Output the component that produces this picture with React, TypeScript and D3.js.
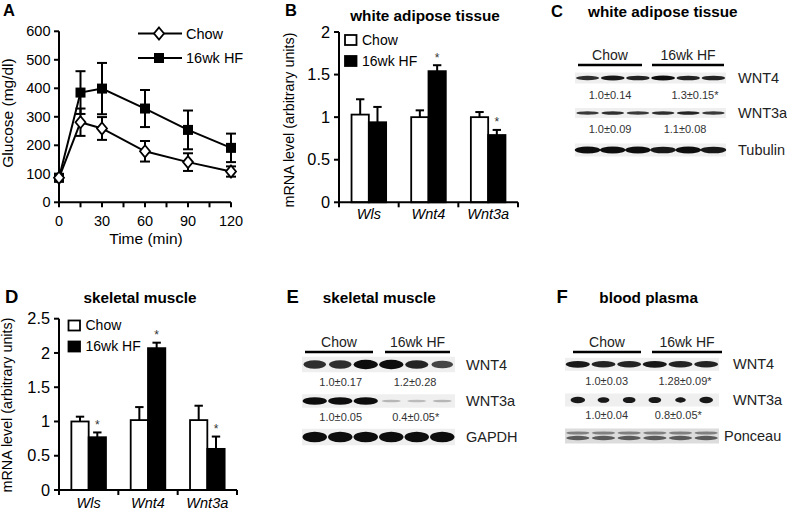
import React from 'react';
import * as d3 from 'd3';

const FONT = "Arial, 'Liberation Sans', Helvetica, sans-serif";

// ---------- Panel A data ----------
const timePoints = [0, 15, 30, 60, 90, 120];
const chowGlucose = [86, 281, 259, 179, 141, 108];
const chowGlucoseErr = [12, 48, 40, 36, 31, 18];
const hfGlucose = [86, 385, 399, 329, 254, 191];
const hfGlucoseErr = [12, 75, 90, 65, 68, 50];
const glucoseTicks = [0, 100, 200, 300, 400, 500, 600];
const timeTicks = [0, 30, 60, 90, 120];
const timeAllTicks = [0, 15, 30, 45, 60, 75, 90, 105, 120];

// ---------- Bar panels data ----------
const genes = ['Wls', 'Wnt4', 'Wnt3a'];
const groups = ['Chow', '16wk HF'];
const watChow = [1.03, 1.0, 1.0];
const watChowErr = [0.18, 0.08, 0.06];
const watHF = [0.94, 1.54, 0.79];
const watHFErr = [0.18, 0.07, 0.06];
const watSig = [false, true, true];
const watTicks = [0, 0.5, 1, 1.5, 2];

const smChow = [1.0, 1.02, 1.02];
const smChowErr = [0.07, 0.19, 0.21];
const smHF = [0.77, 2.07, 0.6];
const smHFErr = [0.07, 0.08, 0.18];
const smSig = [true, true, true];
const smTicks = [0, 0.5, 1, 1.5, 2, 2.5];

// ---------- Blot data (relative band intensities per lane) ----------
const cRowLabels = ['WNT4', 'WNT3a', 'Tubulin'];
const cWnt4 = [0.85, 0.95, 0.9, 1.0, 0.9, 0.9];
const cWnt3a = [0.8, 0.85, 0.8, 0.85, 0.9, 0.8];
const cTubulin = [1, 1, 1, 0.95, 1, 0.95];
const cQuant = [['1.0±0.14', '1.3±0.15*'], ['1.0±0.09', '1.1±0.08']];

const eRowLabels = ['WNT4', 'WNT3a', 'GAPDH'];
const eWnt4 = [0.85, 0.85, 1.0, 1.0, 0.9, 0.75];
const eWnt3a = [1, 1, 1, 0.2, 0.18, 0.2];
const eGapdh = [1, 1, 1, 1, 1, 1];
const eQuant = [['1.0±0.17', '1.2±0.28'], ['1.0±0.05', '0.4±0.05*']];

const fRowLabels = ['WNT4', 'WNT3a', 'Ponceau'];
const fWnt4 = [0.95, 0.9, 0.9, 0.95, 0.9, 0.9];
const fWnt3a = [0.9, 0.6, 0.7, 0.7, 0.45, 0.8];
const fPonceau = [0.55, 0.55, 0.55, 0.55, 0.55, 0.55];
const fQuant = [['1.0±0.03', '1.28±0.09*'], ['1.0±0.04', '0.8±0.05*']];

function PanelA() {
  const x = d3.scaleLinear().domain([0, 120]).range([59, 231]);
  const y = d3.scaleLinear().domain([0, 600]).range([202.3, 31.3]);
  const line = d3.line<number>().x((_, i) => x(timePoints[i])).y((d) => y(d));
  const diamond = (cx: number, cy: number, k: string) => (
    <path key={k} d={`M${cx},${cy - 6}L${cx + 5},${cy}L${cx},${cy + 6}L${cx - 5},${cy}Z`} fill="white" stroke="black" strokeWidth={1.8} />
  );
  const square = (cx: number, cy: number, k: string) => (
    <rect key={k} x={cx - 5} y={cy - 5} width={10} height={10} fill="black" />
  );
  const errBars = (vals: number[], errs: number[], k: string) =>
    vals.map((v, i) => {
      const cx = x(timePoints[i]);
      const t = y(v + errs[i]);
      const b = y(v - errs[i]);
      return (
        <g key={k + i} stroke="black" strokeWidth={2}>
          <line x1={cx} x2={cx} y1={t} y2={b} />
          <line x1={cx - 5} x2={cx + 5} y1={t} y2={t} />
          <line x1={cx - 5} x2={cx + 5} y1={b} y2={b} />
        </g>
      );
    });
  return (
    <g fontFamily={FONT}>
      <text x={3} y={16} fontSize={16.5} fontWeight="bold">A</text>
      <line x1={x(0)} x2={x(0)} y1={y(0) + 1} y2={y(600)} stroke="black" strokeWidth={2} />
      <line x1={x(0) - 1} x2={x(120)} y1={y(0)} y2={y(0)} stroke="black" strokeWidth={2} />
      {glucoseTicks.map((t) => (
        <g key={'gy' + t}>
          <line x1={x(0) - 5} x2={x(0)} y1={y(t)} y2={y(t)} stroke="black" strokeWidth={2} />
          <text x={x(0) - 8.5} y={y(t) + 5} fontSize={14.5} textAnchor="end">{t}</text>
        </g>
      ))}
      {timeAllTicks.map((t) => (
        <line key={'tx' + t} x1={x(t)} x2={x(t)} y1={y(0)} y2={y(0) + 5} stroke="black" strokeWidth={2} />
      ))}
      {timeTicks.map((t) => (
        <text key={'tl' + t} x={x(t)} y={225.5} fontSize={14.5} textAnchor="middle">{t}</text>
      ))}
      <text x={146} y={244} fontSize={15.5} textAnchor="middle">Time (min)</text>
      <text transform="translate(13,113) rotate(-90)" fontSize={15.5} textAnchor="middle">Glucose (mg/dl)</text>
      {errBars(hfGlucose, hfGlucoseErr, 'he')}
      {errBars(chowGlucose, chowGlucoseErr, 'ce')}
      <path d={line(hfGlucose) || ''} fill="none" stroke="black" strokeWidth={2} />
      <path d={line(chowGlucose) || ''} fill="none" stroke="black" strokeWidth={2} />
      {hfGlucose.map((v, i) => square(x(timePoints[i]), y(v), 'hs' + i))}
      {chowGlucose.map((v, i) => diamond(x(timePoints[i]), y(v), 'cd' + i))}
      <line x1={138} x2={182} y1={33.5} y2={33.5} stroke="black" strokeWidth={2} />
      {diamond(159, 33.5, 'ld')}
      <text x={186} y={38.5} fontSize={14.5}>{groups[0]}</text>
      <line x1={138} x2={182} y1={58} y2={58} stroke="black" strokeWidth={2} />
      {square(159, 58, 'ls')}
      <text x={186} y={63} fontSize={14.5}>{groups[1]}</text>
    </g>
  );
}

type BarProps = {
  x0: number; x1: number; y0: number; yTop: number; max: number; ticks: number[];
  chow: number[]; chowErr: number[]; hf: number[]; hfErr: number[]; sig: boolean[];
  letter: string; letterX: number; letterY: number; letterSize: number;
  title: string; titleX: number; titleY: number;
  ylabX: number; ylabY: number; legX: number; legY: number; xlabY: number;
};

function BarPanel(p: BarProps) {
  const xb = d3.scaleBand<string>().domain(genes).range([p.x0, p.x1]).paddingInner(0).paddingOuter(0);
  const y = d3.scaleLinear().domain([0, p.max]).range([p.y0, p.yTop]);
  const bw = 17.3;
  const bars = (vals: number[], errs: number[], isHF: boolean) =>
    vals.map((v, i) => {
      const c = (xb(genes[i]) || 0) + xb.bandwidth() / 2;
      const bx = isHF ? c : c - bw;
      const mid = bx + bw / 2;
      const top = y(v);
      const et = y(v + errs[i]);
      return (
        <g key={(isHF ? 'h' : 'c') + i}>
          <line x1={mid} x2={mid} y1={top} y2={et} stroke="black" strokeWidth={2} />
          <line x1={mid - 4.2} x2={mid + 4.2} y1={et} y2={et} stroke="black" strokeWidth={2} />
          <rect x={bx} y={top} width={bw} height={p.y0 - top} fill={isHF ? 'black' : 'white'} stroke="black" strokeWidth={1.8} />
          {isHF && p.sig[i] ? (
            <text x={mid} y={et - 3.5} fontSize={12} textAnchor="middle" fill="#333">*</text>
          ) : null}
        </g>
      );
    });
  return (
    <g fontFamily={FONT}>
      <text x={p.letterX} y={p.letterY} fontSize={p.letterSize} fontWeight="bold">{p.letter}</text>
      <text x={p.titleX} y={p.titleY} fontSize={15.3} fontWeight="bold" textAnchor="middle">{p.title}</text>
      <text transform={`translate(${p.ylabX},${p.ylabY}) rotate(-90)`} fontSize={14.3} textAnchor="middle">mRNA level (arbitrary units)</text>
      {bars(p.chow, p.chowErr, false)}
      {bars(p.hf, p.hfErr, true)}
      <line x1={p.x0} x2={p.x0} y1={p.y0 + 1} y2={y(p.max)} stroke="black" strokeWidth={2} />
      <line x1={p.x0 - 1} x2={p.x1} y1={p.y0} y2={p.y0} stroke="black" strokeWidth={2} />
      {p.ticks.map((t) => (
        <g key={'t' + t}>
          <line x1={p.x0 - 5} x2={p.x0} y1={y(t)} y2={y(t)} stroke="black" strokeWidth={2} />
          <text x={p.x0 - 9} y={y(t) + 5.6} fontSize={16.3} textAnchor="end">{t}</text>
        </g>
      ))}
      {[...genes.map((g) => xb(g) || 0), p.x1].map((v, i) => (
        <line key={'xt' + i} x1={v} x2={v} y1={p.y0} y2={p.y0 + 5} stroke="black" strokeWidth={2} />
      ))}
      {genes.map((g) => (
        <text key={'gl' + g} x={(xb(g) || 0) + xb.bandwidth() / 2} y={p.xlabY} fontSize={14.5} fontStyle="italic" textAnchor="middle">{g}</text>
      ))}
      <rect x={p.legX} y={p.legY} width={11.5} height={10} fill="white" stroke="black" strokeWidth={1.8} />
      <text x={p.legX + 17} y={p.legY + 9.8} fontSize={14}>{groups[0]}</text>
      <rect x={p.legX} y={p.legY + 21} width={11.5} height={10} fill="black" stroke="black" strokeWidth={1.8} />
      <text x={p.legX + 17} y={p.legY + 30.8} fontSize={14}>{groups[1]}</text>
    </g>
  );
}

type BlotRow = { label: string; bands: number[]; cy: number; labelY: number; thick: number; widthF: number; minW: number; kind?: string };

type BlotProps = {
  letter: string; letterX: number; title: string; titleX: number; titleY: number; letterY: number; letterSize: number;
  x0: number; x1: number; lineY: number; groupTextY: number;
  chowLine: [number, number]; hfLine: [number, number];
  labelX: number; lastLabelX: number; rows: BlotRow[]; quant: string[][]; quantX: number[][]; quantY: number[];
};

function Blot(p: BlotProps) {
  const lanes = d3.range(6);
  const xl = d3.scaleBand<number>().domain(lanes).range([p.x0, p.x1]);
  const op = d3.scaleLinear().domain([0, 1]).range([0.05, 1]).clamp(true);
  const thickF = d3.scaleLinear().domain([0, 1]).range([0.2, 1]).clamp(true);
  return (
    <g fontFamily={FONT}>
      <text x={p.letterX} y={p.letterY} fontSize={p.letterSize} fontWeight="bold">{p.letter}</text>
      <text x={p.titleX} y={p.titleY} fontSize={15.3} fontWeight="bold">{p.title}</text>
      <line x1={p.chowLine[0]} x2={p.chowLine[1]} y1={p.lineY} y2={p.lineY} stroke="black" strokeWidth={2.5} />
      <line x1={p.hfLine[0]} x2={p.hfLine[1]} y1={p.lineY} y2={p.lineY} stroke="black" strokeWidth={2.5} />
      <text x={(p.chowLine[0] + p.chowLine[1]) / 2} y={p.groupTextY} fontSize={14} textAnchor="middle" fill="#222">{groups[0]}</text>
      <text x={(p.hfLine[0] + p.hfLine[1]) / 2} y={p.groupTextY} fontSize={14} textAnchor="middle" fill="#222">{groups[1]}</text>
      {p.rows.map((r, ri) => (
        <g key={'r' + ri}>
          <rect x={p.x0} y={r.cy - r.thick / 2 - 3} width={p.x1 - p.x0} height={r.thick + 6} fill={r.kind === 'ponceau' ? '#dcdcdc' : '#efefef'} />
          <g filter="url(#blur)">
            {r.bands.map((b, i) => {
              const cx = (xl(i) || 0) + xl.bandwidth() / 2;
              const rx = (xl.bandwidth() / 2) * (r.minW + (r.widthF - r.minW) * b);
              if (r.kind === 'ponceau') {
                return (
                  <g key={i}>
                    <ellipse cx={cx} cy={r.cy - 3} rx={rx} ry={1.6} fill="#333" opacity={b} />
                    <ellipse cx={cx} cy={r.cy + 2} rx={rx} ry={2.2} fill="#222" opacity={b + 0.15} />
                  </g>
                );
              }
              if (r.kind === 'spot') {
                const rys = (r.thick / 2) * (0.55 + 0.45 * b);
                return <ellipse key={i} cx={cx} cy={r.cy} rx={rx} ry={rys} fill="#0a0a0a" opacity={0.95} />;
              }
              const ry = (r.thick / 2) * thickF(b);
              return <ellipse key={i} cx={cx} cy={r.cy} rx={rx} ry={ry} fill="#111" opacity={op(b)} />;
            })}
          </g>
          <text x={ri === p.rows.length - 1 ? p.lastLabelX : p.labelX} y={r.labelY} fontSize={14.5} fill="#222">{r.label}</text>
        </g>
      ))}
      {p.quant.map((q, qi) =>
        q.map((s, si) => (
          <text key={'q' + qi + si} x={p.quantX[qi][si]} y={p.quantY[qi]} fontSize={11} textAnchor="middle" fill="#333">{s}</text>
        ))
      )}
    </g>
  );
}

export default function App() {
  return (
    <svg width={787} height={512} style={{ position: 'absolute', left: 0, top: 0, background: 'white' }}>
      <defs>
        <filter id="blur" x="-20%" y="-50%" width="140%" height="200%">
          <feGaussianBlur stdDeviation={0.7} />
        </filter>
      </defs>
      <rect x={0} y={0} width={787} height={512} fill="white" />
      <PanelA />
      <BarPanel
        x0={339} x1={518} y0={202.3} yTop={32} max={2} ticks={watTicks}
        chow={watChow} chowErr={watChowErr} hf={watHF} hfErr={watHFErr} sig={watSig}
        letter="B" letterX={285} letterY={15.5} letterSize={16.5}
        title="white adipose tissue" titleX={425} titleY={20.5}
        ylabX={293.5} ylabY={120} legX={345} legY={35} xlabY={219}
      />
      <BarPanel
        x0={59} x1={237} y0={490} yTop={318.7} max={2.5} ticks={smTicks}
        chow={smChow} chowErr={smChowErr} hf={smHF} hfErr={smHFErr} sig={smSig}
        letter="D" letterX={5} letterY={303} letterSize={18.5}
        title="skeletal muscle" titleX={140} titleY={303}
        ylabX={11.5} ylabY={405} legX={68.5} legY={320.5} xlabY={508}
      />
      <Blot
        letter="C" letterX={551} letterY={16.7} letterSize={16.5}
        title="white adipose tissue" titleX={588} titleY={16.5}
        x0={575} x1={726} lineY={65} groupTextY={60}
        chowLine={[578, 642]} hfLine={[652, 724]}
        labelX={738} lastLabelX={738}
        rows={[
          { label: cRowLabels[0], bands: cWnt4, cy: 78, labelY: 83, thick: 5, widthF: 0.95, minW: 0.8 },
          { label: cRowLabels[1], bands: cWnt3a, cy: 113, labelY: 118, thick: 4, widthF: 0.92, minW: 0.8 },
          { label: cRowLabels[2], bands: cTubulin, cy: 150, labelY: 155, thick: 7, widthF: 1.02, minW: 0.9 },
        ]}
        quant={cQuant} quantX={[[610, 695], [610, 685]]} quantY={[98.5, 133]}
      />
      <Blot
        letter="E" letterX={286.5} letterY={303} letterSize={18.5}
        title="skeletal muscle" titleX={322.7} titleY={302.5}
        x0={302} x1={455} lineY={352} groupTextY={347}
        chowLine={[305, 373]} hfLine={[385, 450]}
        labelX={466} lastLabelX={466}
        rows={[
          { label: eRowLabels[0], bands: eWnt4, cy: 364.5, labelY: 370, thick: 9.5, widthF: 0.95, minW: 0.55 },
          { label: eRowLabels[1], bands: eWnt3a, cy: 401, labelY: 406, thick: 7.5, widthF: 0.95, minW: 0.7 },
          { label: eRowLabels[2], bands: eGapdh, cy: 437, labelY: 442, thick: 10.5, widthF: 0.96, minW: 0.9 },
        ]}
        quant={eQuant} quantX={[[340.7, 415], [340.7, 415.7]]} quantY={[386, 421]}
      />
      <Blot
        letter="F" letterX={556.5} letterY={303} letterSize={18.5}
        title="blood plasma" titleX={599.3} titleY={303}
        x0={565} x1={719} lineY={352} groupTextY={347}
        chowLine={[573, 641]} hfLine={[652, 722]}
        labelX={733} lastLabelX={724}
        rows={[
          { label: fRowLabels[0], bands: fWnt4, cy: 364.3, labelY: 369, thick: 7, widthF: 0.95, minW: 0.8 },
          { label: fRowLabels[1], bands: fWnt3a, cy: 400, labelY: 405, thick: 7, widthF: 0.6, minW: 0.25, kind: 'spot' },
          { label: fRowLabels[2], bands: fPonceau, cy: 436, labelY: 441, thick: 9, widthF: 0.92, minW: 0.9, kind: 'ponceau' },
        ]}
        quant={fQuant} quantX={[[606.7, 685], [606.7, 678.3]]} quantY={[385, 419]}
      />
    </svg>
  );
}
